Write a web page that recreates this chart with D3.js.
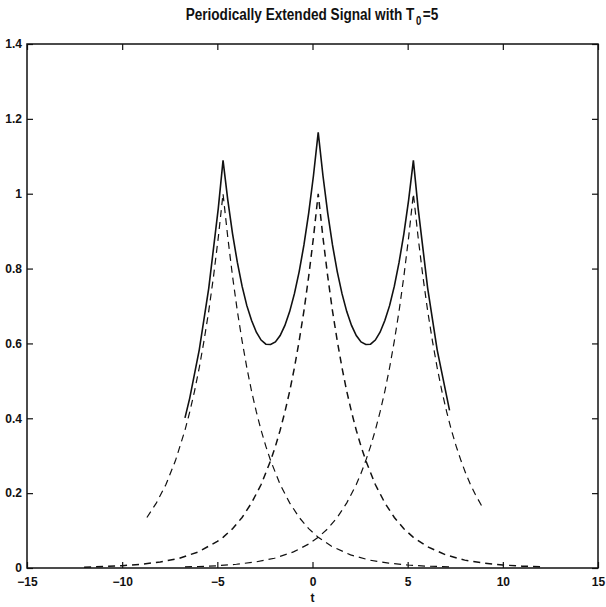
<!DOCTYPE html>
<html>
<head>
<meta charset="utf-8">
<script src="https://cdn.jsdelivr.net/npm/d3@7"></script>
<style>
  body { margin: 0; background: #fff; }
  svg { display: block; }
  .tick text { font-family: "Liberation Sans", Arial, sans-serif; font-size: 12px; font-weight: bold; fill: #111; }
  .tick line { stroke: #111; stroke-width: 1.2; }
  .ttl { font-family: "Liberation Sans", Arial, sans-serif; font-weight: bold; fill: #111; }
</style>
</head>
<body>
<div id="chart"></div>
<script>
// values
var xTicks = [-15, -10, -5, 0, 5, 10, 15];
var yTicks = [0, 0.2, 0.4, 0.6, 0.8, 1, 1.2, 1.4];

// dashed copy centred near t = -4.7
var leftT = [-8.7, -8.2, -7.7, -7.2, -6.7, -6.45, -6.2, -5.95, -5.7, -5.45, -5.2, -4.95, -4.7,
  -4.45, -4.2, -3.95, -3.7, -3.45, -3.2, -2.95, -2.7, -2.45, -2.2, -1.7, -1.2, -0.7, -0.2, 0.3,
  1, 2, 3, 4, 5, 6, 7.3];
var leftY = [0.135, 0.174, 0.223, 0.287, 0.368, 0.417, 0.472, 0.535, 0.607, 0.687, 0.779, 0.883, 1,
  0.883, 0.779, 0.687, 0.607, 0.535, 0.472, 0.417, 0.368, 0.325, 0.287, 0.223, 0.174, 0.135, 0.105, 0.082,
  0.058, 0.035, 0.021, 0.013, 0.008, 0.005, 0.003];

// dashed copy centred near t = 0.3
var midT = [-12, -11, -10, -9, -8, -7, -6, -5, -4.7, -4.2, -3.7, -3.2, -2.7, -2.2, -1.95, -1.7,
  -1.45, -1.2, -0.95, -0.7, -0.45, -0.2, 0.05, 0.3, 0.55, 0.8, 1.05, 1.3, 1.55, 1.8, 2.05, 2.3,
  2.55, 2.8, 3.3, 3.8, 4.3, 4.8, 5.3, 6, 7, 8, 9, 10, 11, 12];
var midY = [0.002, 0.004, 0.006, 0.01, 0.016, 0.026, 0.043, 0.071, 0.082, 0.105, 0.135, 0.174, 0.223, 0.287, 0.325, 0.368,
  0.417, 0.472, 0.535, 0.607, 0.687, 0.779, 0.883, 1, 0.883, 0.779, 0.687, 0.607, 0.535, 0.472, 0.417, 0.368,
  0.325, 0.287, 0.223, 0.174, 0.135, 0.105, 0.082, 0.058, 0.035, 0.021, 0.013, 0.008, 0.005, 0.003];

// dashed copy centred near t = 5.3
var rightT = [-6.7, -6, -5, -4, -3, -2, -1, -0.2, 0.3, 0.8, 1.3, 1.8, 2.3, 2.55, 2.8, 3.05, 3.3,
  3.55, 3.8, 4.05, 4.3, 4.55, 4.8, 5.05, 5.3, 5.55, 5.8, 6.05, 6.3, 6.55, 6.8, 7.05, 7.3, 7.55,
  7.8, 8.05, 8.3, 8.55, 8.9];
var rightY = [0.003, 0.004, 0.006, 0.01, 0.016, 0.026, 0.043, 0.064, 0.082, 0.105, 0.135, 0.174, 0.223, 0.253, 0.287, 0.325, 0.368,
  0.417, 0.472, 0.535, 0.607, 0.687, 0.779, 0.883, 1, 0.883, 0.779, 0.687, 0.607, 0.535, 0.472, 0.417, 0.368, 0.325,
  0.287, 0.253, 0.223, 0.197, 0.165];

// solid periodic signal
var sumT = [-6.7, -6.45, -5.95, -5.45, -4.95, -4.7, -4.45, -4.2, -3.95, -3.7, -3.45, -3.2, -2.95,
  -2.7, -2.45, -2.2, -1.95, -1.7, -1.45, -1.2, -0.95, -0.7, -0.45, -0.2, 0.05, 0.3, 0.55, 0.8,
  1.05, 1.3, 1.55, 1.8, 2.05, 2.3, 2.55, 2.8, 3.05, 3.3, 3.55, 3.8, 4.05, 4.3, 4.55, 4.8, 5.05,
  5.3, 5.55, 6.05, 6.55, 7.2];
var sumY = [0.401, 0.454, 0.583, 0.748, 0.961, 1.089, 0.983, 0.893, 0.817, 0.753, 0.701, 0.661, 0.630,
  0.609, 0.598, 0.597, 0.604, 0.621, 0.648, 0.685, 0.733, 0.792, 0.863, 0.948, 1.048, 1.164, 1.048, 0.948,
  0.863, 0.792, 0.733, 0.685, 0.648, 0.621, 0.604, 0.597, 0.598, 0.609, 0.630, 0.661, 0.701, 0.753, 0.817, 0.893, 0.983,
  1.089, 0.961, 0.748, 0.583, 0.421];

const W = 606, H = 607,
  LEFT = 27, RIGHT = 598, TOP = 44, BOTTOM = 568,
  TICK = 6;

var svg = d3.select("#chart").append("svg")
  .attr("width", W)
  .attr("height", H);

var x = d3.scaleLinear().domain([-15, 15]).range([LEFT, RIGHT]);
var y = d3.scaleLinear().domain([0, 1.4]).range([BOTTOM, TOP]);

// axes with inward ticks, matlab style
svg.append("g")
  .attr("transform", "translate(0," + BOTTOM + ")")
  .call(d3.axisBottom(x).tickValues(xTicks).tickSize(-TICK).tickPadding(9))
  .call(g => g.select(".domain").remove());
svg.append("g")
  .attr("transform", "translate(0," + TOP + ")")
  .call(d3.axisTop(x).tickValues(xTicks).tickSize(-TICK).tickFormat(""))
  .call(g => g.select(".domain").remove());
svg.append("g")
  .attr("transform", "translate(" + LEFT + ",0)")
  .call(d3.axisLeft(y).tickValues(yTicks).tickSize(-TICK).tickPadding(5).tickFormat(d3.format("")))
  .call(g => g.select(".domain").remove());
svg.append("g")
  .attr("transform", "translate(" + RIGHT + ",0)")
  .call(d3.axisRight(y).tickValues(yTicks).tickSize(-TICK).tickFormat(""))
  .call(g => g.select(".domain").remove());

svg.append("rect")
  .attr("x", LEFT).attr("y", TOP)
  .attr("width", RIGHT - LEFT).attr("height", BOTTOM - TOP)
  .attr("fill", "none")
  .attr("stroke", "#111")
  .attr("stroke-width", 1.5);

var line = d3.line()
  .x(d => x(d[0]))
  .y(d => y(d[1]));

function pairs(ts, vs) { return ts.map((t, i) => [t, vs[i]]); }

[[leftT, leftY, 1.2], [midT, midY, 1.5], [rightT, rightY, 1.2]].forEach(function(s) {
  svg.append("path")
    .datum(pairs(s[0], s[1]))
    .attr("d", line)
    .attr("fill", "none")
    .attr("stroke", "#111")
    .attr("stroke-width", s[2])
    .attr("stroke-dasharray", "7,5");
});

svg.append("path")
  .datum(pairs(sumT, sumY))
  .attr("d", line)
  .attr("fill", "none")
  .attr("stroke", "#111")
  .attr("stroke-width", 1.6);

// title in three pieces, laid out from their measured widths,
// squeezed sideways to get the narrow face of the original
var tg = svg.append("g").attr("transform", "translate(312,0) scale(0.8,1)");
var tMain = tg.append("text").attr("class", "ttl")
  .attr("y", 20).style("font-size", "17px")
  .text("Periodically Extended Signal with T");
var tSub = tg.append("text").attr("class", "ttl")
  .attr("y", 25).style("font-size", "12px")
  .text("0");
var tEnd = tg.append("text").attr("class", "ttl")
  .attr("y", 20).style("font-size", "17px")
  .text("=5");
var wMain = tMain.node().getComputedTextLength(),
  wSub = tSub.node().getComputedTextLength(),
  wEnd = tEnd.node().getComputedTextLength(),
  GAP = 2,
  x0 = -(wMain + wSub + wEnd + 2 * GAP) / 2;
tMain.attr("x", x0);
tSub.attr("x", x0 + wMain + GAP);
tEnd.attr("x", x0 + wMain + wSub + 2 * GAP);

// x label
svg.append("text")
  .attr("x", x(0))
  .attr("y", 602)
  .attr("text-anchor", "middle")
  .style("font-family", "'Liberation Sans', Arial, sans-serif")
  .style("font-size", "12px")
  .style("font-weight", "bold")
  .style("fill", "#111")
  .text("t");
</script>
</body>
</html>
